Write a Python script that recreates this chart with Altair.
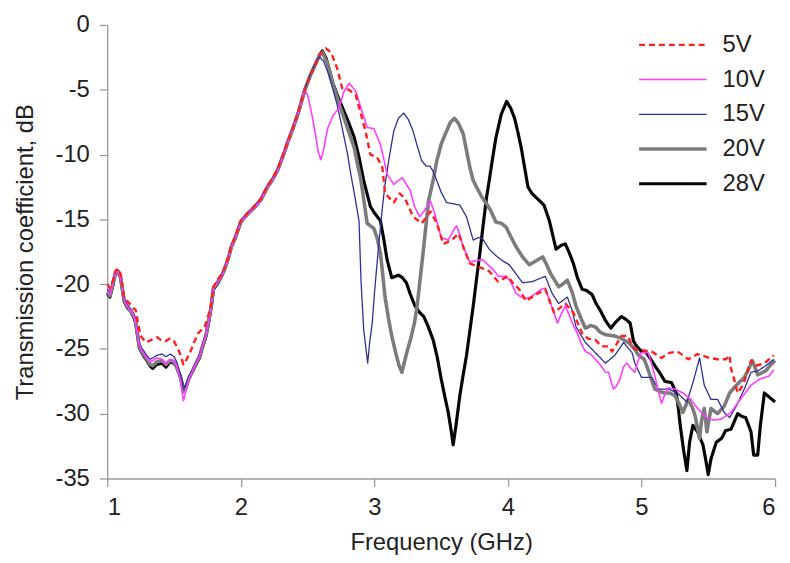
import altair as alt
import pandas as pd

series_order = ["5V", "10V", "15V", "20V", "28V"]
series_colors = ["#ff1f1f", "#ff3cff", "#2f2f96", "#7c7c7c", "#050505"]
series_dash = [[6, 4], [1, 0], [1, 0], [1, 0], [1, 0]]
series_width = [2.4, 1.6, 1.3, 3.6, 3.2]

x_ticks = [1, 2, 3, 4, 5, 6]
y_ticks = [0, -5, -10, -15, -20, -25, -30, -35]

# ---- 5V (red, dashed) ----
f_5v = [1.00, 1.02, 1.04, 1.06, 1.08, 1.10, 1.126, 1.15, 1.176, 1.20, 1.213, 1.23, 1.25, 1.29, 1.33,
        1.374, 1.40, 1.436, 1.47, 1.50, 1.53, 1.55, 1.57, 1.60, 1.62, 1.65, 1.68, 1.73, 1.75, 1.77,
        1.795, 1.83, 1.86, 1.88, 1.91, 1.93, 1.96, 2.00, 2.05, 2.10, 2.15, 2.20, 2.24, 2.28, 2.32,
        2.35, 2.39, 2.43, 2.46, 2.48, 2.52, 2.56, 2.59, 2.637, 2.674, 2.72, 2.76, 2.81, 2.86, 2.90,
        2.934, 2.97, 3.02, 3.06, 3.08, 3.145, 3.19, 3.23, 3.29, 3.355, 3.42, 3.467, 3.516, 3.58, 3.63,
        3.665, 3.714, 3.79, 3.86, 3.925, 4.00, 4.036, 4.085, 4.135, 4.21, 4.28, 4.345, 4.43, 4.49, 4.556,
        4.60, 4.655, 4.70, 4.754, 4.78, 4.85, 4.90, 4.93, 4.95, 5.00, 5.077, 5.15, 5.21, 5.27, 5.35,
        5.42, 5.51, 5.57, 5.63, 5.66, 5.67, 5.69, 5.72, 5.76, 5.82, 5.856, 5.92, 5.99]
db_5v = [-20.0, -20.3, -19.8, -19.0, -18.8, -19.2, -21.0, -21.3, -21.6, -21.9, -22.0, -23.0, -24.0, -24.5, -24.3,
         -24.1, -24.3, -24.4, -24.2, -24.4, -25.0, -25.5, -26.2, -25.7, -25.3, -24.5, -23.8, -23.3, -22.6, -22.0,
         -20.2, -19.6, -19.2, -18.7, -17.8, -17.0, -16.3, -15.1, -14.5, -14.0, -13.4, -12.4, -11.8, -11.0, -9.9,
         -9.0, -7.9, -6.7, -5.6, -4.9, -3.9, -3.0, -2.3, -1.8, -2.1, -3.3, -4.9, -5.0, -5.4, -6.9,
         -8.2, -10.0, -10.2, -11.0, -13.0, -13.7, -13.0, -13.4, -14.8, -15.3, -14.4, -15.3, -16.9, -16.6, -16.1,
         -17.1, -18.4, -18.7, -19.0, -19.8, -19.4, -19.9, -20.4, -21.3, -20.8, -20.4, -22.2, -21.5, -22.2, -23.8,
         -24.2, -24.3, -24.8, -24.8, -25.2, -24.0, -24.0, -24.8, -25.0, -25.1, -25.2, -25.7, -25.3, -25.2, -25.8,
         -25.4, -25.7, -25.8, -25.8, -25.5, -26.5, -27.2, -28.4, -27.8, -25.9, -26.3, -26.1, -25.5]

# ---- 10V (magenta) ----
f_10v = [1.00, 1.02, 1.04, 1.06, 1.08, 1.10, 1.126, 1.15, 1.176, 1.20, 1.213, 1.24, 1.27, 1.29, 1.32,
         1.34, 1.37, 1.41, 1.44, 1.47, 1.50, 1.52, 1.55, 1.57, 1.59, 1.61, 1.63, 1.66, 1.69, 1.71,
         1.74, 1.76, 1.78, 1.795, 1.83, 1.86, 1.88, 1.91, 1.93, 1.96, 2.00, 2.05, 2.10, 2.15, 2.20,
         2.24, 2.28, 2.32, 2.35, 2.39, 2.43, 2.46, 2.476, 2.50, 2.53, 2.56, 2.58, 2.60, 2.62, 2.65,
         2.69, 2.736, 2.77, 2.81, 2.86, 2.90, 2.946, 2.996, 3.045, 3.07, 3.095, 3.145, 3.18, 3.21, 3.24,
         3.27, 3.30, 3.34, 3.37, 3.42, 3.45, 3.48, 3.50, 3.553, 3.59, 3.615, 3.64, 3.665, 3.714, 3.76,
         3.81, 3.85, 3.89, 3.93, 3.987, 4.02, 4.06, 4.10, 4.135, 4.17, 4.21, 4.25, 4.28, 4.31, 4.345,
         4.37, 4.40, 4.43, 4.46, 4.49, 4.52, 4.55, 4.58, 4.62, 4.655, 4.69, 4.73, 4.754, 4.775, 4.79,
         4.81, 4.84, 4.865, 4.89, 4.92, 4.95, 4.975, 5.00, 5.05, 5.075, 5.10, 5.125, 5.15, 5.175, 5.20,
         5.25, 5.31, 5.37, 5.42, 5.49, 5.54, 5.60, 5.67, 5.74, 5.82, 5.89, 5.955, 5.99]
db_10v = [-20.5, -20.8, -20.0, -19.1, -19.0, -19.5, -21.2, -21.7, -22.0, -22.4, -22.9, -24.7, -25.3, -25.6, -26.0,
          -25.9, -25.7, -25.8, -26.2, -25.8, -25.9, -26.3, -27.5, -29.0, -28.2, -27.3, -26.9, -26.2, -25.6, -24.9,
          -23.9, -22.8, -21.6, -20.3, -19.8, -19.3, -18.8, -17.9, -17.1, -16.4, -15.2, -14.6, -14.1, -13.5, -12.5,
          -11.9, -11.1, -10.0, -9.1, -8.0, -6.8, -5.7, -5.0, -5.4, -6.8, -8.5, -9.8, -10.4, -9.6, -8.0,
          -7.0, -6.4, -5.2, -4.5, -5.1, -6.4, -7.9, -8.0, -9.2, -10.3, -11.5, -12.3, -12.0, -11.8, -12.3,
          -12.8, -14.0, -14.8, -14.4, -13.6, -14.5, -15.6, -16.4, -16.6, -15.9, -15.5, -16.2, -17.1, -18.3, -18.2,
          -18.1, -18.5, -18.9, -19.4, -19.4, -19.8, -20.7, -21.0, -21.1, -21.0, -20.7, -20.4, -20.3, -21.2, -22.2,
          -23.0, -22.3, -21.7, -22.4, -23.2, -23.8, -24.6, -25.2, -25.4, -25.8, -26.2, -26.8, -26.8, -27.6, -28.1,
          -27.9, -27.3, -26.4, -26.1, -26.5, -26.8, -25.9, -25.3, -25.3, -26.1, -27.1, -28.2, -29.2, -28.5, -28.0,
          -28.1, -28.4, -28.9, -29.6, -30.3, -30.5, -30.4, -29.9, -28.9, -27.8, -27.3, -27.1, -26.6]

# ---- 15V (blue) ----
f_15v = [1.00, 1.02, 1.04, 1.06, 1.08, 1.10, 1.126, 1.15, 1.176, 1.20, 1.213, 1.24, 1.27, 1.29, 1.32,
         1.34, 1.37, 1.41, 1.44, 1.47, 1.50, 1.52, 1.55, 1.57, 1.59, 1.61, 1.63, 1.66, 1.69, 1.71,
         1.74, 1.76, 1.78, 1.795, 1.83, 1.86, 1.88, 1.91, 1.93, 1.96, 2.00, 2.05, 2.10, 2.15, 2.20,
         2.24, 2.28, 2.32, 2.35, 2.39, 2.43, 2.46, 2.48, 2.52, 2.56, 2.588, 2.62, 2.65, 2.685, 2.72,
         2.76, 2.80, 2.82, 2.86, 2.885, 2.90, 2.92, 2.95, 2.965, 2.984, 3.00, 3.02, 3.04, 3.06, 3.08,
         3.11, 3.145, 3.18, 3.22, 3.255, 3.29, 3.32, 3.355, 3.39, 3.417, 3.44, 3.467, 3.50, 3.54, 3.59,
         3.64, 3.69, 3.74, 3.78, 3.81, 3.86, 3.91, 3.96, 4.01, 4.06, 4.11, 4.185, 4.23, 4.28, 4.33,
         4.38, 4.445, 4.48, 4.51, 4.58, 4.655, 4.73, 4.80, 4.866, 4.93, 4.95, 5.00, 5.077, 5.126, 5.20,
         5.27, 5.34, 5.385, 5.435, 5.47, 5.52, 5.57, 5.62, 5.66, 5.71, 5.77, 5.82, 5.87, 5.93, 5.99]
db_15v = [-20.4, -20.6, -19.9, -19.0, -18.9, -19.4, -21.1, -21.6, -21.9, -22.3, -22.8, -24.6, -25.1, -25.4, -25.8,
          -25.7, -25.5, -25.4, -25.6, -25.4, -25.6, -26.0, -27.0, -28.1, -27.8, -27.1, -26.8, -26.1, -25.5, -24.8,
          -23.8, -22.7, -21.5, -20.2, -19.7, -19.2, -18.7, -17.8, -17.0, -16.3, -15.1, -14.5, -14.0, -13.4, -12.4,
          -11.8, -11.0, -9.9, -9.0, -7.9, -6.7, -5.6, -4.9, -3.8, -2.9, -2.45, -2.8, -3.6, -4.8, -6.1,
          -8.0, -10.0, -11.3, -13.6, -15.1, -19.7, -23.5, -26.1, -24.5, -23.0, -20.8, -18.4, -16.2, -14.1, -12.3,
          -10.3, -8.2, -7.2, -6.8, -7.3, -8.2, -9.3, -10.5, -10.9, -10.9, -11.3, -12.0, -12.9, -13.7, -13.8,
          -13.9, -14.8, -16.6, -16.4, -16.5, -17.3, -17.8, -18.2, -18.5, -19.2, -19.9, -19.8, -19.6, -19.4, -20.7,
          -21.5, -21.0, -22.0, -23.3, -24.5, -25.3, -26.1, -25.5, -24.5, -25.3, -26.1, -27.2, -27.2, -28.1, -28.1,
          -28.4, -29.1, -27.6, -25.7, -27.8, -28.9, -28.9, -29.9, -30.3, -29.4, -28.1, -26.8, -26.7, -26.3, -25.8]

# ---- 20V (grey) ----
f_20v = [1.00, 1.02, 1.04, 1.06, 1.08, 1.10, 1.126, 1.15, 1.176, 1.20, 1.213, 1.24, 1.27, 1.29, 1.32,
         1.34, 1.37, 1.41, 1.44, 1.47, 1.50, 1.52, 1.55, 1.57, 1.59, 1.61, 1.63, 1.66, 1.69, 1.71,
         1.74, 1.76, 1.78, 1.795, 1.83, 1.86, 1.88, 1.91, 1.93, 1.96, 2.00, 2.05, 2.10, 2.15, 2.20,
         2.24, 2.28, 2.32, 2.35, 2.39, 2.43, 2.46, 2.48, 2.52, 2.56, 2.59, 2.61, 2.65, 2.70, 2.74,
         2.774, 2.81, 2.85, 2.875, 2.90, 2.925, 2.946, 2.97, 2.996, 3.02, 3.045, 3.06, 3.08, 3.105, 3.13,
         3.16, 3.185, 3.206, 3.23, 3.25, 3.27, 3.30, 3.32, 3.345, 3.37, 3.39, 3.405, 3.44, 3.467, 3.50,
         3.54, 3.57, 3.60, 3.63, 3.665, 3.69, 3.715, 3.74, 3.77, 3.80, 3.84, 3.87, 3.91, 3.95, 3.987,
         4.02, 4.06, 4.11, 4.16, 4.21, 4.26, 4.29, 4.32, 4.38, 4.41, 4.445, 4.48, 4.51, 4.545, 4.58,
         4.62, 4.655, 4.69, 4.73, 4.80, 4.85, 4.90, 4.94, 4.98, 5.02, 5.05, 5.075, 5.10, 5.14, 5.175,
         5.21, 5.25, 5.28, 5.31, 5.35, 5.38, 5.40, 5.435, 5.45, 5.47, 5.49, 5.52, 5.57, 5.62, 5.66,
         5.71, 5.77, 5.80, 5.83, 5.87, 5.93, 5.97, 6.00]
db_20v = [-20.6, -20.9, -20.1, -19.2, -19.0, -19.5, -21.2, -21.7, -22.1, -22.5, -22.9, -24.8, -25.4, -25.7, -26.2,
          -26.3, -26.0, -25.9, -26.2, -25.9, -26.0, -26.4, -27.3, -28.3, -28.0, -27.3, -26.9, -26.2, -25.6, -24.9,
          -23.9, -22.8, -21.6, -20.3, -19.8, -19.3, -18.8, -17.9, -17.1, -16.4, -15.2, -14.6, -14.1, -13.5, -12.5,
          -11.9, -11.1, -10.0, -9.1, -8.0, -6.8, -5.7, -5.0, -3.9, -3.0, -2.3, -2.1, -3.0, -4.9, -6.2,
          -7.2, -8.3, -9.5, -10.8, -12.0, -13.8, -15.3, -15.5, -15.7, -16.4, -17.6, -19.0, -21.0, -22.6, -24.0,
          -25.3, -26.3, -26.8, -25.8, -25.0, -24.3, -23.0, -21.7, -19.4, -17.1, -15.1, -13.6, -12.0, -10.5, -9.2,
          -8.2, -7.5, -7.2, -7.6, -8.4, -9.7, -11.0, -12.0, -12.6, -13.2, -13.8, -14.3, -15.2, -15.3, -15.6,
          -16.3, -17.1, -17.9, -18.5, -18.2, -17.9, -18.5, -19.2, -20.2, -20.0, -19.7, -20.6, -21.7, -22.6, -23.4,
          -23.2, -23.3, -23.7, -23.9, -24.0, -24.2, -24.5, -24.9, -25.5, -25.8, -26.6, -27.4, -28.1, -28.3, -28.4,
          -28.4, -28.6, -29.2, -29.9, -28.9, -29.5, -30.1, -31.9, -30.5, -29.6, -31.4, -29.6, -30.0, -29.4, -28.4,
          -27.8, -27.2, -26.6, -25.9, -27.0, -26.7, -26.2, -25.9]

# ---- 28V (black) ----
f_28v = [1.00, 1.02, 1.04, 1.06, 1.08, 1.10, 1.126, 1.15, 1.176, 1.20, 1.213, 1.24, 1.27, 1.29, 1.32,
         1.34, 1.37, 1.41, 1.44, 1.47, 1.50, 1.52, 1.55, 1.57, 1.59, 1.61, 1.63, 1.66, 1.69, 1.71,
         1.74, 1.76, 1.78, 1.795, 1.83, 1.86, 1.88, 1.91, 1.93, 1.96, 2.00, 2.05, 2.10, 2.15, 2.20,
         2.24, 2.28, 2.32, 2.35, 2.39, 2.43, 2.46, 2.48, 2.52, 2.56, 2.59, 2.61, 2.64, 2.686, 2.73,
         2.774, 2.81, 2.85, 2.885, 2.92, 2.95, 2.97, 3.00, 3.045, 3.07, 3.095, 3.13, 3.16, 3.18, 3.21,
         3.24, 3.27, 3.305, 3.34, 3.37, 3.40, 3.44, 3.47, 3.50, 3.53, 3.553, 3.575, 3.59, 3.61, 3.64,
         3.665, 3.69, 3.715, 3.74, 3.765, 3.79, 3.815, 3.84, 3.86, 3.885, 3.91, 3.95, 3.99, 4.02, 4.05,
         4.075, 4.10, 4.125, 4.15, 4.18, 4.21, 4.24, 4.27, 4.31, 4.36, 4.40, 4.43, 4.46, 4.49, 4.52,
         4.556, 4.59, 4.63, 4.66, 4.69, 4.73, 4.77, 4.81, 4.85, 4.88, 4.915, 4.94, 4.965, 5.00, 5.03,
         5.07, 5.10, 5.14, 5.175, 5.225, 5.26, 5.275, 5.29, 5.315, 5.34, 5.36, 5.385, 5.42, 5.46, 5.48,
         5.50, 5.52, 5.56, 5.60, 5.63, 5.67, 5.72, 5.75, 5.78, 5.82, 5.84, 5.87, 5.89, 5.92, 5.955, 6.00]
db_28v = [-20.7, -21.0, -20.2, -19.2, -19.0, -19.5, -21.3, -21.8, -22.1, -22.6, -23.0, -24.9, -25.5, -25.8, -26.3,
          -26.5, -26.2, -26.1, -26.4, -26.0, -26.1, -26.4, -27.2, -28.0, -27.9, -27.3, -26.9, -26.3, -25.7, -25.0,
          -24.0, -22.9, -21.7, -20.4, -19.9, -19.3, -18.8, -17.9, -17.1, -16.4, -15.2, -14.6, -14.1, -13.5, -12.5,
          -11.9, -11.1, -10.0, -9.1, -8.0, -6.8, -5.7, -5.0, -3.9, -3.0, -2.3, -2.0, -2.6, -4.4, -5.6,
          -6.7, -7.6, -8.7, -10.2, -12.0, -13.2, -14.0, -14.5, -15.1, -16.5, -18.1, -19.5, -19.4, -19.3, -19.5,
          -19.9, -20.8, -21.7, -22.2, -22.5, -23.2, -24.3, -25.6, -27.3, -28.8, -29.9, -31.3, -32.4, -31.0, -28.6,
          -27.0, -25.5, -23.6, -21.7, -19.6, -17.6, -15.4, -13.3, -12.0, -10.3, -8.7, -6.9, -5.9, -6.4, -7.2,
          -8.3, -9.5, -11.0, -12.5, -13.0, -13.3, -13.6, -13.9, -15.1, -17.3, -17.0, -16.9, -17.6, -18.4, -19.5,
          -20.4, -20.5, -20.8, -21.5, -22.0, -22.8, -23.4, -22.9, -22.5, -22.7, -23.0, -24.4, -24.8, -25.2, -25.2,
          -25.8, -26.3, -26.9, -27.5, -27.6, -28.4, -29.5, -30.9, -32.8, -34.4, -32.2, -30.9, -31.4, -32.4, -33.5,
          -34.7, -33.5, -32.2, -31.9, -31.3, -31.2, -30.0, -30.2, -30.3, -31.4, -33.2, -33.2, -30.9, -28.4, -28.7, -29.1]

# drawing order: 28V at the back, 5V on top
draw = [("28V", f_28v, db_28v), ("20V", f_20v, db_20v), ("15V", f_15v, db_15v),
        ("10V", f_10v, db_10v), ("5V", f_5v, db_5v)]
rows = []
for name, fs, ds in draw:
    for i, (f, d) in enumerate(zip(fs, ds)):
        rows.append({"series": name, "freq": f, "db": d, "idx": i})
df = pd.DataFrame(rows)

FONT = "Liberation Sans"
TXT = "#222222"
AX = "#9a9a9a"

chart = alt.Chart(df).mark_line(strokeJoin="round", strokeCap="butt").encode(
    x=alt.X("freq:Q", title="Frequency (GHz)",
            scale=alt.Scale(domain=[1, 6], nice=False, zero=False),
            axis=alt.Axis(values=x_ticks, grid=False, format="d", labelPadding=9, titlePadding=12)),
    y=alt.Y("db:Q", title="Transmission coefficient, dB",
            scale=alt.Scale(domain=[-35, 0], nice=False, zero=False),
            axis=alt.Axis(values=y_ticks, grid=False, labelExpr="'' + datum.value",
                          labelPadding=10, titlePadding=18)),
    color=alt.Color("series:N", scale=alt.Scale(domain=series_order, range=series_colors),
                    legend=alt.Legend(title=None, orient="none", legendX=534, legendY=8,
                                      symbolType="stroke", symbolSize=4624, clipHeight=24,
                                      labelOffset=14, rowPadding=11, labelFontSize=24,
                                      labelFont=FONT, labelColor=TXT)),
    strokeDash=alt.StrokeDash("series:N", scale=alt.Scale(domain=series_order, range=series_dash)),
    strokeWidth=alt.StrokeWidth("series:N", scale=alt.Scale(type="ordinal", domain=series_order,
                                                            range=series_width)),
    order=alt.Order("idx:Q"),
).properties(
    width=673,
    height=457,
    autosize=alt.AutoSizeParams(type="none"),
    padding={"left": 100, "top": 15, "right": 7, "bottom": 78},
).configure_axis(
    domainColor=AX, tickColor=AX, tickSize=8, domainWidth=1.3, tickWidth=1.3,
    labelFont=FONT, titleFont=FONT, labelFontSize=24, titleFontSize=24,
    labelColor=TXT, titleColor=TXT, titleFontWeight="normal",
).configure_view(stroke=None).configure_legend(
    symbolType="stroke", symbolSize=4624, clipHeight=24, labelFontSize=24, labelFont=FONT
)

chart.save("out.html", embed_options={"renderer": "svg", "actions": False})
